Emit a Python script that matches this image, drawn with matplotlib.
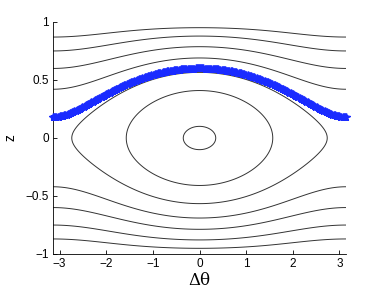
import matplotlib
matplotlib.use("Agg")
import matplotlib.pyplot as plt
import numpy as np

# Hamiltonian H = Lambda*z^2/2 - sqrt(1-z^2)*cos(dtheta), parameters
Lambda = 10.9
levels = [-0.94, 0.0, 0.92, 1.87, 2.76, 3.73, 4.62]
blue_level = 1.16

xticks = [-3, -2, -1, 0, 1, 2, 3]
yticks = [-1, -0.5, 0, 0.5, 1]
ytick_labels = ["\u22121", "\u22120.5", "0", "0.5", "1"]


def energy(th, z):
    return Lambda * z**2 / 2 - np.sqrt(1 - z**2) * np.cos(th)


th = np.linspace(-np.pi, np.pi, 600)
zz = np.linspace(-0.999, 0.999, 600)
TH, ZZ = np.meshgrid(th, zz)
H = energy(TH, ZZ)

# blue orbit: upper branch of the level blue_level
zb_grid = np.linspace(0, 0.9, 2000)
th_b = np.linspace(-np.pi, np.pi, 260)
z_b = np.array([np.interp(blue_level, energy(t, zb_grid), zb_grid) for t in th_b])

plt.rcParams["font.family"] = ["Liberation Sans", "DejaVu Sans"]

fig = plt.figure(figsize=(3.82, 2.91), dpi=100)
ax = fig.add_axes([53 / 382, 1 - 254 / 291, (346 - 53) / 382, (254 - 22) / 291])

ax.contour(TH, ZZ, H, levels=levels, colors="#333333", linewidths=0.7,
           linestyles="solid")
ax.plot(th_b, z_b, color="#1a2bff", marker="*", markersize=5.5, lw=3.2,
        clip_on=False, zorder=5)

ax.set_xlim(-np.pi, np.pi)
ax.set_ylim(-1, 1)
ax.set_xticks(xticks)
ax.set_yticks(yticks)
ax.set_yticklabels(ytick_labels)
ax.tick_params(direction="in", length=3, width=0.6, labelsize=8.5, pad=3)
for s in ["top", "right"]:
    ax.spines[s].set_visible(False)
for s in ["left", "bottom"]:
    ax.spines[s].set_linewidth(0.6)

ax.set_xlabel("\u0394\u03b8", family="DejaVu Serif", fontsize=12, labelpad=1)
ax.set_ylabel("z", fontsize=10)
ax.yaxis.set_label_coords(-0.12, 0.5)

fig.savefig("out.png", dpi=100)
